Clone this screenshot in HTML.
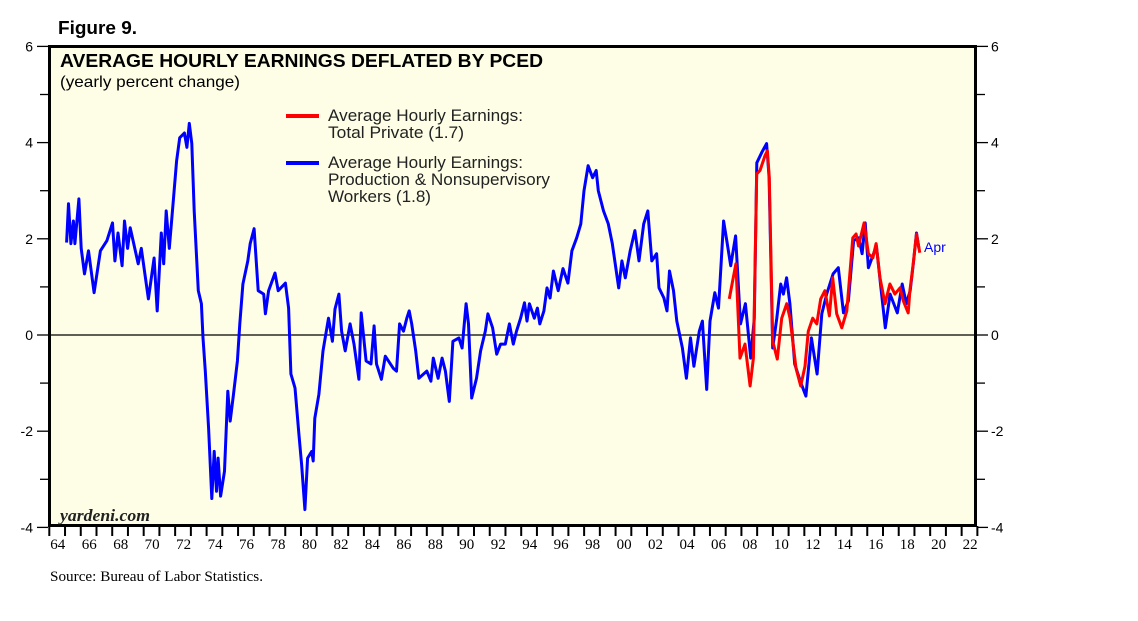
<!DOCTYPE html>
<html><head><meta charset="utf-8"><style>
body{margin:0;background:#fff;width:1138px;height:621px;overflow:hidden}
svg{display:block}
</style></head><body>
<svg id="chart" width="1138" height="621" xmlns="http://www.w3.org/2000/svg" font-family="Liberation Sans, sans-serif">
<text x="58" y="34" font-size="18" font-weight="bold" textLength="79" lengthAdjust="spacingAndGlyphs">Figure 9.</text>
<rect x="49.5" y="46.5" width="926" height="479" fill="#FEFEE6" stroke="#000" stroke-width="3"/>
<g id="axes"></g>
<g id="series"></g>
<text x="60" y="67" font-size="18.5" font-weight="bold" textLength="483" lengthAdjust="spacingAndGlyphs">AVERAGE HOURLY EARNINGS DEFLATED BY PCED</text>
<text x="60" y="87" font-size="16" textLength="180" lengthAdjust="spacingAndGlyphs">(yearly percent change)</text>
<line x1="286" y1="116" x2="319" y2="116" stroke="#f00" stroke-width="4"/>
<text font-size="16.5" fill="#222"><tspan x="328" y="121" textLength="195" lengthAdjust="spacingAndGlyphs">Average Hourly Earnings:</tspan><tspan x="328" y="138" textLength="136" lengthAdjust="spacingAndGlyphs">Total Private (1.7)</tspan></text>
<line x1="286" y1="163" x2="319" y2="163" stroke="#00f" stroke-width="4"/>
<text font-size="16.5" fill="#222"><tspan x="328" y="168" textLength="195" lengthAdjust="spacingAndGlyphs">Average Hourly Earnings:</tspan><tspan x="328" y="185" textLength="222" lengthAdjust="spacingAndGlyphs">Production &amp; Nonsupervisory</tspan><tspan x="328" y="202" textLength="103" lengthAdjust="spacingAndGlyphs">Workers (1.8)</tspan></text>
<text x="924" y="252" font-size="14" fill="#00f">Apr</text>
<text x="60" y="521" font-size="17" font-style="italic" font-weight="bold" font-family="Liberation Serif, serif" fill="#222" textLength="90" lengthAdjust="spacingAndGlyphs">yardeni.com</text>
<text x="50" y="581" font-size="14.5" font-family="Liberation Serif, serif" textLength="213" lengthAdjust="spacingAndGlyphs">Source: Bureau of Labor Statistics.</text>
</svg>
<script>
const yTicks=[6,4,2,0,-2,-4];
const xLabels=['64','66','68','70','72','74','76','78','80','82','84','86','88','90','92','94','96','98','00','02','04','06','08','10','12','14','16','18','20','22'];
const blueYears=[1965.10,1965.22,1965.37,1965.53,1965.63,1965.88,1966.03,1966.24,1966.49,1966.85,1967.25,1967.66,1968.02,1968.17,1968.37,1968.63,1968.78,1968.98,1969.14,1969.65,1969.85,1970.30,1970.66,1970.86,1971.12,1971.27,1971.43,1971.63,1971.88,1972.09,1972.29,1972.59,1972.75,1972.90,1973.06,1973.21,1973.47,1973.67,1973.77,1973.92,1974.13,1974.33,1974.48,1974.63,1974.73,1974.89,1975.14,1975.35,1975.50,1975.71,1975.96,1976.11,1976.31,1976.62,1976.77,1977.02,1977.28,1977.63,1977.74,1977.94,1978.35,1978.55,1979.01,1979.21,1979.36,1979.62,1979.87,1980.04,1980.25,1980.42,1980.68,1980.78,1980.88,1981.14,1981.40,1981.75,1982.00,1982.16,1982.41,1982.58,1982.81,1983.12,1983.37,1983.68,1983.83,1984.14,1984.45,1984.65,1984.80,1985.11,1985.36,1985.86,1986.07,1986.27,1986.52,1986.73,1986.88,1987.04,1987.29,1987.49,1988.00,1988.26,1988.41,1988.72,1988.97,1989.18,1989.43,1989.66,1990.04,1990.24,1990.50,1990.65,1990.85,1991.16,1991.42,1991.72,1991.88,1992.18,1992.44,1992.69,1992.99,1993.25,1993.50,1993.70,1993.96,1994.21,1994.37,1994.52,1994.83,1995.03,1995.18,1995.44,1995.64,1995.84,1996.05,1996.35,1996.66,1996.97,1997.22,1997.53,1997.79,1997.99,1998.25,1998.54,1998.77,1998.90,1999.23,1999.54,1999.79,2000.20,2000.40,2000.62,2000.93,2001.23,2001.49,2001.79,2002.05,2002.30,2002.61,2002.76,2003.07,2003.27,2003.43,2003.68,2003.89,2004.25,2004.50,2004.76,2004.98,2005.32,2005.52,2005.79,2006.00,2006.31,2006.54,2006.87,2007.07,2007.32,2007.63,2007.94,2008.25,2008.59,2008.82,2008.98,2009.30,2009.60,2009.76,2009.99,2010.25,2010.50,2010.67,2010.87,2011.08,2011.39,2011.74,2012.10,2012.45,2012.81,2013.11,2013.42,2013.83,2014.16,2014.49,2014.80,2015.13,2015.46,2015.67,2015.87,2016.07,2016.58,2016.84,2017.15,2017.45,2017.91,2018.22,2018.48,2018.73,2018.93,2019.13,2019.29];
const blueValues=[1.92,2.73,1.9,2.37,1.9,2.83,1.8,1.27,1.75,0.88,1.75,1.96,2.33,1.54,2.12,1.44,2.37,1.8,2.23,1.48,1.8,0.75,1.6,0.5,2.12,1.48,2.58,1.8,2.79,3.62,4.1,4.2,3.9,4.4,3.98,2.58,0.92,0.65,-0.06,-0.75,-1.94,-3.4,-2.42,-3.25,-2.56,-3.35,-2.83,-1.17,-1.79,-1.23,-0.54,0.23,1.06,1.54,1.9,2.21,0.92,0.85,0.44,0.92,1.29,0.92,1.08,0.56,-0.81,-1.1,-2.06,-2.69,-3.63,-2.56,-2.42,-2.62,-1.73,-1.23,-0.33,0.35,-0.13,0.54,0.85,0.08,-0.33,0.23,-0.19,-0.92,0.46,-0.54,-0.6,0.19,-0.6,-0.92,-0.44,-0.69,-0.75,0.23,0.08,0.35,0.5,0.23,-0.33,-0.9,-0.75,-0.96,-0.48,-0.9,-0.48,-0.75,-1.38,-0.13,-0.06,-0.27,0.65,0.23,-1.31,-0.9,-0.33,0.08,0.44,0.15,-0.4,-0.19,-0.19,0.23,-0.19,0.08,0.35,0.67,0.29,0.65,0.35,0.56,0.23,0.5,0.98,0.77,1.33,0.92,1.38,1.08,1.75,2.02,2.31,3.0,3.52,3.27,3.42,3.0,2.58,2.31,1.9,0.98,1.54,1.19,1.75,2.17,1.54,2.31,2.58,1.54,1.69,0.98,0.77,0.5,1.33,0.92,0.29,-0.27,-0.9,-0.06,-0.65,0.08,0.29,-1.13,0.29,0.88,0.56,2.37,1.96,1.44,2.06,0.23,0.65,-0.48,0.35,3.58,3.8,3.98,3.27,-0.27,0.35,1.06,0.85,1.19,0.65,-0.6,-0.96,-1.27,-0.06,-0.81,0.44,0.85,1.27,1.4,0.46,0.71,1.96,2.02,1.69,2.33,1.4,1.85,1.06,0.15,0.85,0.46,1.06,0.65,0.92,1.48,2.12,1.79];
const redYears=[2007.23,2007.44,2007.65,2007.91,2008.23,2008.55,2008.76,2008.97,2009.18,2009.50,2009.65,2009.77,2009.99,2010.28,2010.56,2010.88,2011.09,2011.47,2011.77,2012.04,2012.25,2012.53,2012.79,2013.04,2013.31,2013.59,2013.80,2014.06,2014.38,2014.70,2015.08,2015.29,2015.44,2015.80,2016.07,2016.35,2016.56,2016.81,2017.13,2017.44,2017.76,2018.08,2018.29,2018.60,2018.71,2018.92,2019.13,2019.34];
const redValues=[0.75,1.12,1.48,-0.48,-0.19,-1.06,-0.48,3.35,3.42,3.73,3.83,3.27,-0.13,-0.5,0.35,0.65,0.35,-0.69,-1.06,-0.65,0.08,0.35,0.23,0.75,0.92,0.4,1.19,0.44,0.15,0.5,2.02,2.1,1.85,2.33,1.69,1.6,1.9,1.19,0.65,1.06,0.85,0.98,0.71,0.46,0.92,1.48,2.1,1.71];

const NS='http://www.w3.org/2000/svg';
const X0=49.3, PXY=15.73, Y0=335, PXV=48.1;
function xs(yr){return X0+(yr-1964)*PXY;}
function ys(v){return Y0-v*PXV;}
function mk(tag,attrs,parent){const e=document.createElementNS(NS,tag);for(const k in attrs)e.setAttribute(k,attrs[k]);parent.appendChild(e);return e;}
const ax=document.getElementById('axes');
let zl=mk('line',{x1:50,x2:975,y1:ys(0),y2:ys(0),stroke:'#000','stroke-width':1.2},ax);


for(let v=-4;v<=6;v++){
  const major=v%2===0;
  let t1=mk('line',{x1:major?37:40,x2:48,y1:ys(v),y2:ys(v),stroke:'#000','stroke-width':1.3},ax);
  
  
  let t2=mk('line',{x1:977,x2:major?988:985,y1:ys(v),y2:ys(v),stroke:'#000','stroke-width':1.3},ax);
  
  
}
yTicks.forEach(v=>{
  let l=mk('text',{x:33,y:ys(v)+5,'font-size':14,'text-anchor':'end'},ax);l.textContent=v;
  
  
  let r=mk('text',{x:991,y:ys(v)+5,'font-size':14},ax);r.textContent=v;
  
  
});
for(let yr=1964;yr<=2023;yr++){
  let t=mk('line',{x1:xs(yr),x2:xs(yr),y1:526,y2:536,stroke:'#000','stroke-width':2},ax);
  
  
}
xLabels.forEach((lab,i)=>{
  let t=mk('text',{x:xs(1964+2*i)+1,y:549,'font-size':15,'font-family':'Liberation Serif, serif'},ax);t.textContent=lab;
  
  
});
const sg=document.getElementById('series');
function path(yrs,vals){return yrs.map((y,i)=>(i?'L':'M')+xs(y).toFixed(1)+' '+ys(vals[i]).toFixed(1)).join(' ');}
let bl=mk('path',{d:path(blueYears,blueValues),fill:'none',stroke:'#00f','stroke-width':3,'stroke-linejoin':'round'},sg);


let rl=mk('path',{d:path(redYears,redValues),fill:'none',stroke:'#f00','stroke-width':3,'stroke-linejoin':'round'},sg);


</script>
</body></html>
